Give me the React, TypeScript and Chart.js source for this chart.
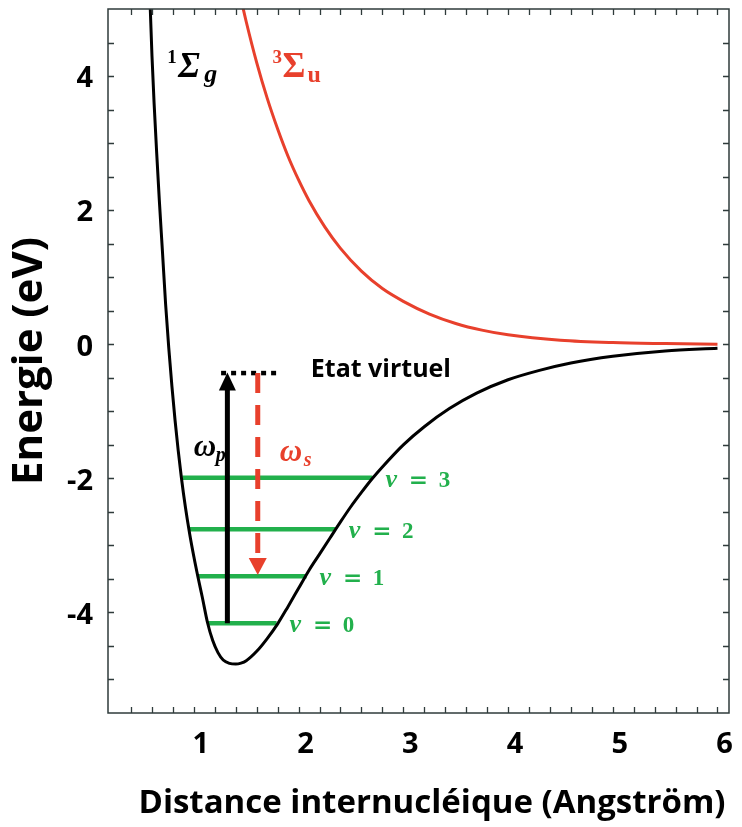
import React, { useEffect, useRef } from "react";
import { Chart, registerables } from "chart.js";

Chart.register(...registerables);

// ---- data ----
const groundX = [0.575, 0.585, 0.6, 0.62, 0.645, 0.67, 0.7, 0.73, 0.76, 0.79, 0.82, 0.85, 0.88, 0.92, 0.96, 1.0, 1.04, 1.08, 1.13, 1.18, 1.23, 1.28, 1.34, 1.4, 1.45, 1.5, 1.6, 1.7, 1.8, 1.9, 2.0, 2.1, 2.2, 2.3, 2.4, 2.5, 2.6, 2.7, 2.8, 3.0, 3.2, 3.44, 3.7, 4.0, 4.3, 4.6, 5.0, 5.5, 6.0];
const groundY = [5.4, 4.95, 4.3, 3.6, 2.85, 2.15, 1.38, 0.6, -0.05, -0.62, -1.13, -1.58, -1.98, -2.44, -2.83, -3.17, -3.48, -3.77, -4.15, -4.42, -4.6, -4.71, -4.76, -4.77, -4.756, -4.72, -4.58, -4.39, -4.17, -3.91, -3.64, -3.37, -3.13, -2.89, -2.65, -2.42, -2.21, -2.01, -1.83, -1.5, -1.23, -0.96, -0.73, -0.53, -0.39, -0.28, -0.18, -0.1, -0.06];

const repulsiveX = [1.4, 1.45, 1.5, 1.6, 1.7, 1.8, 1.9, 2.0, 2.1, 2.25, 2.4, 2.6, 2.8, 3.0, 3.25, 3.5, 3.75, 4.0, 4.5, 5.0, 5.5, 6.0];
const repulsiveY = [5.51, 5.15, 4.81, 4.2, 3.67, 3.21, 2.8, 2.45, 2.14, 1.75, 1.43, 1.09, 0.83, 0.64, 0.45, 0.31, 0.21, 0.14, 0.06, 0.025, 0.01, 0.0];

const levelNames = ["0", "1", "2", "3"];
const levelEnergy = [-4.16, -3.46, -2.76, -1.99];
const levelLeftX = [1.13, 1.036, 0.957, 0.89];
const levelRightX = [1.79, 2.076, 2.355, 2.705];

const virtualEnergy = -0.43;
const virtualX = [1.26, 1.83];
const pumpX = 1.32;
const pumpFrom = -4.16;
const pumpTo = -0.42;
const stokesX = 1.61;
const stokesFrom = -0.43;
const stokesTo = -3.44;

const xTickLabels = [1, 2, 3, 4, 5, 6];
const yTickLabels = [-4, -2, 0, 2, 4];

// ---- styles ----
const SANS = '"Open Sans", "Liberation Sans", sans-serif';
const SERIF = '"Liberation Serif", "DejaVu Serif", serif';
const RED = "#e8402c";
const GREEN = "#22b04c";
const FRAME = "#2f3b3b";

function put(ctx: CanvasRenderingContext2D, t: string, x: number, y: number, font: string, color: string, align: CanvasTextAlign = "left", base: CanvasTextBaseline = "alphabetic") {
  ctx.font = font;
  ctx.fillStyle = color;
  ctx.textAlign = align;
  ctx.textBaseline = base;
  ctx.fillText(t, x, y);
}

function arrow(ctx: CanvasRenderingContext2D, x: number, y0: number, y1: number, color: string, width: number, headLen: number, headW: number, dash: number[]) {
  const dir = Math.sign(y1 - y0);
  const baseY = y1 - dir * headLen;
  ctx.save();
  ctx.strokeStyle = color;
  ctx.lineWidth = width;
  ctx.lineCap = "butt";
  ctx.setLineDash(dash);
  ctx.beginPath();
  ctx.moveTo(x, y0);
  ctx.lineTo(x, baseY + dir * 1);
  ctx.stroke();
  ctx.setLineDash([]);
  ctx.fillStyle = color;
  ctx.beginPath();
  ctx.moveTo(x, y1);
  ctx.lineTo(x - headW / 2, baseY);
  ctx.lineTo(x + headW / 2, baseY);
  ctx.closePath();
  ctx.fill();
  ctx.restore();
}

const decor = {
  id: "decor",
  afterDatasetsDraw(chart: any) {
    const { ctx, chartArea: a } = chart;
    const xs = chart.scales.x;
    const ys = chart.scales.y;
    const px = (v: number) => xs.getPixelForValue(v);
    const py = (v: number) => ys.getPixelForValue(v);
    ctx.save();

    // arrows
    arrow(ctx, px(pumpX), py(pumpFrom), py(pumpTo), "#000", 5, 18, 17, []);
    arrow(ctx, px(stokesX), py(stokesFrom), py(stokesTo), RED, 5, 17, 18, [20, 12]);

    // frame
    ctx.strokeStyle = FRAME;
    ctx.lineWidth = 1.5;
    ctx.strokeRect(a.left, a.top, a.right - a.left, a.bottom - a.top);

    // inward ticks on all sides
    ctx.beginPath();
    for (let v = 0.4; v <= 6.0001; v += 0.2) {
      const x = Math.round(px(v)) + 0.5;
      ctx.moveTo(x, a.bottom);
      ctx.lineTo(x, a.bottom - 6);
      ctx.moveTo(x, a.top);
      ctx.lineTo(x, a.top + 6);
    }
    for (let v = -5; v <= 4.5001; v += 0.5) {
      const y = Math.round(py(v)) + 0.5;
      ctx.moveTo(a.left, y);
      ctx.lineTo(a.left + 6, y);
      ctx.moveTo(a.right, y);
      ctx.lineTo(a.right - 6, y);
    }
    ctx.lineWidth = 1.3;
    ctx.stroke();

    // vibrational level labels
    for (let i = 0; i < levelNames.length; i++) {
      const x0 = px(levelRightX[i]) + 13;
      const yb = py(levelEnergy[i]) + 9;
      put(ctx, "\u03bd", x0, yb, `italic bold 26px ${SERIF}`, GREEN);
      put(ctx, "=", x0 + 33, yb, `bold 23px "DejaVu Serif", serif`, GREEN, "center");
      put(ctx, levelNames[i], x0 + 59, yb, `bold 23px ${SERIF}`, GREEN, "center");
    }

    // virtual state label
    put(ctx, "Etat virtuel", px(virtualX[1]) + 30, py(virtualEnergy) - 3, `bold 25px ${SANS}`, "#000", "left", "middle");

    // omega labels
    const wpX = px(1.0), wpY = py(-1.67);
    put(ctx, "\u03c9", wpX, wpY, `italic bold 31px ${SERIF}`, "#000");
    put(ctx, "p", wpX + 22, wpY + 5, `italic bold 20px ${SERIF}`, "#000");
    const wsX = px(1.82), wsY = py(-1.74);
    put(ctx, "\u03c9", wsX, wsY, `italic bold 31px ${SERIF}`, RED);
    put(ctx, "s", wsX + 24, wsY + 5, `italic bold 20px ${SERIF}`, RED);

    // state labels
    const gX = px(0.745), gY = py(3.98);
    put(ctx, "1", gX, gY - 14, `bold 19px ${SERIF}`, "#000");
    put(ctx, "\u03a3", gX + 11, gY, `italic bold 35px ${SERIF}`, "#000");
    put(ctx, "g", gX + 37, gY + 5, `italic bold 26px ${SERIF}`, "#000");
    const uX = px(1.75), uY = py(3.98);
    put(ctx, "3", uX, uY - 14, `bold 19px ${SERIF}`, RED);
    put(ctx, "\u03a3", uX + 10, uY, `bold 35px ${SERIF}`, RED);
    put(ctx, "u", uX + 35, uY + 5, `bold 24px ${SERIF}`, RED);

    ctx.restore();
  },
  afterDraw(chart: any) {
    const ctx = chart.ctx as CanvasRenderingContext2D;
    ctx.save();
    put(ctx, "Distance internucl\u00e9ique (Angstr\u00f6m)", 432, 804, `bold 33px ${SANS}`, "#000", "center", "middle");
    ctx.translate(30, 361);
    ctx.rotate(-Math.PI / 2);
    put(ctx, "Energie (eV)", 0, 0, `bold 42px ${SANS}`, "#000", "center", "middle");
    ctx.restore();
  },
};

const line = (xs: number[], ys: number[], color: string, width: number, extra: any = {}) => ({
  data: xs.map((x, i) => ({ x, y: ys[i] })),
  showLine: true,
  borderColor: color,
  backgroundColor: color,
  borderWidth: width,
  pointRadius: 0,
  fill: false,
  ...extra,
});

export default function App() {
  const ref = useRef<HTMLCanvasElement | null>(null);
  useEffect(() => {
    if (!ref.current) return;
    const datasets: any[] = [
      line(groundX, groundY, "#000", 3, { cubicInterpolationMode: "monotone" }),
      line(repulsiveX, repulsiveY, RED, 3, { cubicInterpolationMode: "monotone" }),
    ];
    for (let i = 0; i < levelEnergy.length; i++) {
      datasets.push(line([levelLeftX[i], levelRightX[i]], [levelEnergy[i], levelEnergy[i]], GREEN, 4.5));
    }
    datasets.push(line(virtualX, [virtualEnergy, virtualEnergy], "#000", 4.5, { borderDash: [5, 5] }));

    const chart = new Chart(ref.current, {
      type: "scatter",
      data: { datasets },
      plugins: [decor],
      options: {
        responsive: false,
        animation: false,
        devicePixelRatio: 1,
        layout: { padding: { left: 0, right: 13, top: 9, bottom: 0 } },
        plugins: { legend: { display: false }, tooltip: { enabled: false } },
        scales: {
          x: {
            type: "linear",
            min: 0.18,
            max: 6.11,
            afterFit: (s: any) => { s.height = 114; s.paddingLeft = 0; s.paddingRight = 0; },
            afterBuildTicks: (s: any) => { s.ticks = xTickLabels.map((v) => ({ value: v })); },
            grid: { display: false, drawTicks: false },
            border: { display: false },
            ticks: {
              padding: 14,
              labelOffset: 7,
              color: "#000",
              font: { family: SANS, size: 29, weight: "bold" },
              callback: (v: any) => String(v),
            },
          },
          y: {
            type: "linear",
            min: -5.5,
            max: 5,
            afterFit: (s: any) => { s.width = 108; s.paddingTop = 0; s.paddingBottom = 0; },
            afterBuildTicks: (s: any) => { s.ticks = yTickLabels.map((v) => ({ value: v })); },
            grid: { display: false, drawTicks: false },
            border: { display: false },
            ticks: {
              padding: 15,
              labelOffset: 3,
              color: "#000",
              font: { family: SANS, size: 29, weight: "bold" },
              callback: (v: any) => String(v),
            },
          },
        },
      } as any,
    });
    return () => chart.destroy();
  }, []);

  return (
    <div style={{ position: "absolute", left: 0, top: 0, width: 742, height: 827, background: "#fff" }}>
      <canvas ref={ref} width={742} height={827} style={{ display: "block" }} />
    </div>
  );
}
